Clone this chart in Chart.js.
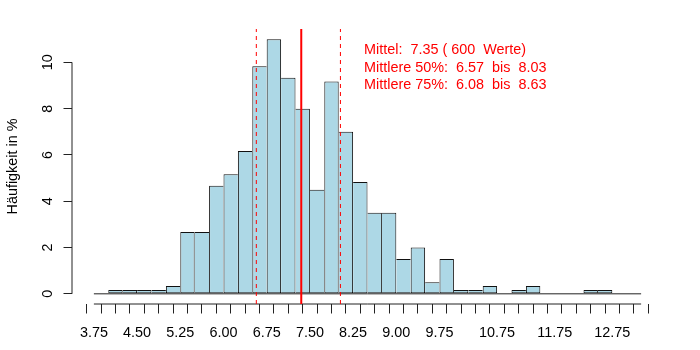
<!DOCTYPE html>
<html>
<head>
<meta charset="utf-8">
<script src="https://cdn.jsdelivr.net/npm/chart.js@4/dist/chart.umd.min.js"></script>
<style>
  html, body { margin: 0; padding: 0; background: #fff; }
  #wrap { width: 700px; height: 350px; }
</style>
</head>
<body>
<div id="wrap"><canvas id="c" width="700" height="350"></canvas></div>
<script>
// histogram bins (width 0.25), left edges from 3.75 to 13.0
const binStart = 3.75;
const binWidth = 0.25;
// share of the 600 values per bin, in %
const binPercent = [
    0, 0.167, 0.167, 0.167, 0.167, 0.333, 2.667, 2.667, 4.667, 5.167,
    6.167, 9.833, 11.0, 9.333, 8.0, 4.5, 9.167, 7.0, 4.833, 3.5,
    3.5, 1.5, 2.0, 0.5, 1.5, 0.167, 0.167, 0.333, 0, 0.167,
    0.333, 0, 0, 0, 0.167, 0.167, 0, 0,
];
const xTickLabels = ['3.75', '4.50', '5.25', '6.00', '6.75', '7.50', '8.25', '9.00', '9.75', '10.75', '11.75', '12.75'];
const yTicks = [0, 2, 4, 6, 8, 10];

const meanValue = 7.35;
const mid50 = [6.57, 8.03];
const infoLines = [
    'Mittel:  7.35 ( 600  Werte)',
    'Mittlere 50%:  6.57  bis  8.03',
    'Mittlere 75%:  6.08  bis  8.63',
];
const infoX = 8.44;
const infoY = [10.52, 9.76, 9.0];

const FONT = '"Liberation Sans", Arial, sans-serif';
const FONT_SIZE = 14.4;
const COLOR_BAR = '#ADD8E6';
const COLOR_RED = '#FF0000';

const xMin = binStart;
const xMax = binStart + binWidth * binPercent.length;
const xPad = (xMax - xMin) * 0.04;
const yMax = Math.max(...binPercent);
const yPad = yMax * 0.04;

const barData = binPercent.map((v, i) => ({ x: binStart + binWidth * (i + 0.5), y: v }));

const xTickValues = [];
for (let i = 0; i <= binPercent.length; i++) xTickValues.push(+(binStart + i * binWidth).toFixed(2));

// shared edge between two bars is drawn only once, by the taller bar
function barBorder(ctx) {
    const i = ctx.dataIndex;
    const v = binPercent[i];
    const prev = i > 0 ? binPercent[i - 1] : 0;
    const next = i < binPercent.length - 1 ? binPercent[i + 1] : 0;
    return { top: 1, bottom: 1, left: v > prev ? 1 : 0, right: v >= next ? 1 : 0 };
}

function vline(x, width, dash) {
    return {
        type: 'line',
        data: [{ x, y: -yPad }, { x, y: yMax + yPad }],
        borderColor: COLOR_RED,
        borderWidth: width,
        borderDash: dash,
        pointRadius: 0,
        order: 1,
        clip: false,
    };
}

function axisLine(points) {
    return {
        type: 'line',
        data: points,
        borderColor: '#222',
        borderWidth: 1,
        pointRadius: 0,
        order: 2,
        clip: false,
    };
}

const infoTextPlugin = {
    id: 'infoText',
    afterDraw(chart) {
        const { ctx, scales } = chart;
        ctx.save();
        ctx.fillStyle = COLOR_RED;
        ctx.font = `${FONT_SIZE}px ${FONT}`;
        ctx.textBaseline = 'middle';
        ctx.textAlign = 'left';
        infoLines.forEach((t, i) => {
            ctx.fillText(t, scales.x.getPixelForValue(infoX), scales.y.getPixelForValue(infoY[i]));
        });
        ctx.restore();
    },
};

new Chart(document.getElementById('c'), {
    type: 'bar',
    data: {
        datasets: [
            {
                type: 'bar',
                data: barData,
                backgroundColor: COLOR_BAR,
                borderColor: '#111',
                borderWidth: barBorder,
                borderSkipped: false,
                barPercentage: 1,
                categoryPercentage: 1,
                inflateAmount: 0,
                order: 3,
            },
            // zero line under the bars
            axisLine([{ x: xMin, y: 0 }, { x: xMax, y: 0 }]),
            // x axis line
            axisLine([{ x: xMin, y: -yPad }, { x: xMax, y: -yPad }]),
            // y axis line
            axisLine([{ x: xMin - xPad, y: 0 }, { x: xMin - xPad, y: 10 }]),
            vline(mid50[0], 1, [4, 4]),
            vline(mid50[1], 1, [4, 4]),
            vline(meanValue, 2, []),
        ],
    },
    options: {
        responsive: false,
        animation: false,
        layout: { padding: { left: 0, right: 37, top: 29, bottom: 0 } },
        plugins: { legend: { display: false }, tooltip: { enabled: false } },
        scales: {
            x: {
                type: 'linear',
                min: xMin - xPad,
                max: xMax + xPad,
                offset: false,
                afterBuildTicks: s => { s.ticks = xTickValues.map(v => ({ value: v })); },
                afterFit: s => { s.height = 46; },
                border: { display: false },
                grid: { drawOnChartArea: false, tickLength: 9.5, tickColor: '#222', tickWidth: 1 },
                ticks: {
                    autoSkip: false,
                    maxRotation: 0,
                    padding: 11,
                    color: '#000',
                    font: { family: FONT, size: FONT_SIZE },
                    callback: v => {
                        const s = v.toFixed(2);
                        return xTickLabels.includes(s) ? s : '';
                    },
                },
            },
            y: {
                min: -yPad,
                max: yMax + yPad,
                afterBuildTicks: s => { s.ticks = yTicks.map(v => ({ value: v })); },
                afterFit: s => { s.width = 72; },
                border: { display: false },
                grid: { drawOnChartArea: false, tickLength: 8.5, tickColor: '#222', tickWidth: 1 },
                ticks: {
                    minRotation: 90,
                    maxRotation: 90,
                    crossAlign: 'center',
                    padding: 7,
                    color: '#000',
                    font: { family: FONT, size: FONT_SIZE },
                },
                title: {
                    display: true,
                    text: 'Häufigkeit in %',
                    color: '#000',
                    font: { family: FONT, size: FONT_SIZE },
                    padding: { top: 4, bottom: 0 },
                },
            },
        },
    },
    plugins: [infoTextPlugin],
});
</script>
</body>
</html>
